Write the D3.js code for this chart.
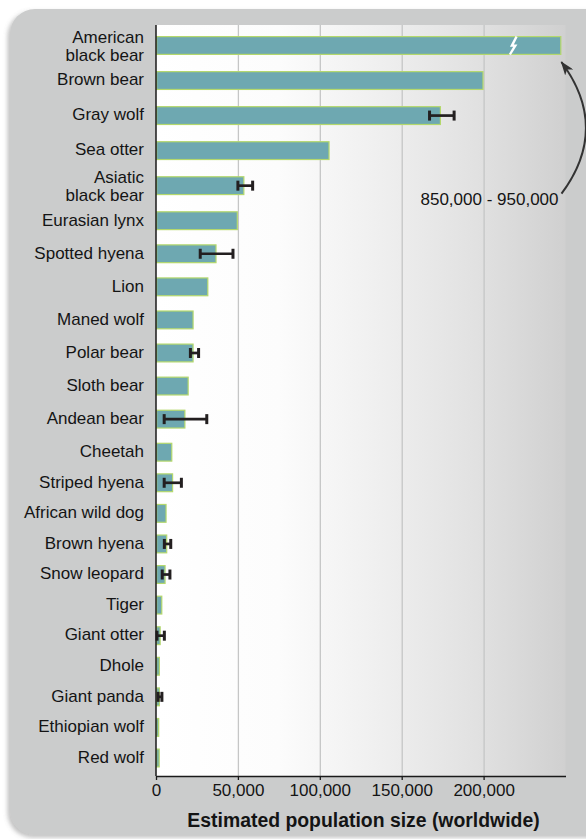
<!DOCTYPE html>
<html>
<head>
<meta charset="utf-8">
<script src="https://cdn.jsdelivr.net/npm/d3@7/dist/d3.min.js"></script>
<style>
  html, body { margin: 0; padding: 0; background: #fff; }
  svg { display: block; font-family: "Liberation Sans", Arial, Helvetica, sans-serif; }
  .label, .tick text { font-size: 17px; fill: #141414; }
  .grid line { stroke: #c5c6c6; stroke-width: 1.3; }
  .bar { fill: #6ea8b1; stroke: #b4d86c; stroke-width: 1.2; }
  .err { stroke: #231f20; fill: none; }
</style>
</head>
<body>
<div class="graphic"></div>
<script>
// species, top to bottom (\n = line break in the label)
var species = [
  "American\nblack bear", "Brown bear", "Gray wolf", "Sea otter", "Asiatic\nblack bear",
  "Eurasian lynx", "Spotted hyena", "Lion", "Maned wolf", "Polar bear", "Sloth bear",
  "Andean bear", "Cheetah", "Striped hyena", "African wild dog", "Brown hyena",
  "Snow leopard", "Tiger", "Giant otter", "Dhole", "Giant panda", "Ethiopian wolf", "Red wolf"
];
// estimated population (worldwide)
var population = [
  900000, 200000, 174000, 106000, 54000,
  50000, 37000, 32000, 23000, 23000, 20000,
  18000, 10000, 10500, 6500, 6900,
  5900, 3900, 2900, 2400, 2400, 2000, 2300
];
// low / high estimates, null where no range is shown
var errLow = [
  null, null, 167000, null, 50000,
  null, 27000, null, null, 21000, null,
  5000, null, 5000, null, 5100,
  3800, null, 600, null, 1300, null, null
];
var errHigh = [
  null, null, 182000, null, 59000,
  null, 47000, null, null, 26000, null,
  31000, null, 15500, null, 9000,
  8500, null, 5100, null, 3600, null, null
];
var xTicks = [0, 50000, 100000, 150000, 200000];
var axisMax = 250000;
// bars above the axis are cut here and marked with a break
var brokenAt = 247500, breakMark = 218000;
var brokenText = "850,000 - 950,000";
var xTitle = "Estimated population size (worldwide)";

(function () {
  "use strict";
  var W = 586, H = 839;
  var plot = {left: 156, right: 565.5, top: 25, bottom: 776};
  var barH = 19;

  var svg = d3.select('.graphic').append('svg').attr('width', W).attr('height', H);
  var defs = svg.append('defs');

  var shadow = defs.append('filter').attr('id', 'shadow')
      .attr('x', '-5%').attr('y', '-5%').attr('width', '110%').attr('height', '110%');
  shadow.append('feDropShadow').attr('dx', -2.5).attr('dy', 2.5)
      .attr('stdDeviation', 2).attr('flood-color', '#777').attr('flood-opacity', 0.45);

  var grad = defs.append('linearGradient').attr('id', 'plotbg')
      .attr('x1', '0%').attr('x2', '100%').attr('y1', '0%').attr('y2', '0%');
  [[0, '#ffffff'], [0.3, '#fcfcfc'], [0.55, '#efefef'], [0.8, '#e0e0e0'], [1, '#d0d0d0']]
    .forEach(function (s) {
      grad.append('stop').attr('offset', s[0]).attr('stop-color', s[1]);
    });

  defs.append('marker').attr('id', 'head')
      .attr('viewBox', '0 -5 14 10').attr('refX', 13).attr('refY', 0)
      .attr('markerUnits', 'userSpaceOnUse')
      .attr('markerWidth', 14).attr('markerHeight', 10).attr('orient', 'auto')
    .append('path').attr('d', 'M0,-5L14,0L0,5L3.5,0Z').attr('fill', '#333');

  // rounded grey panel
  svg.append('rect')
      .attr('x', 10).attr('y', 9).attr('width', 620).attr('height', 826)
      .attr('rx', 25).attr('fill', '#cbcccc').attr('filter', 'url(#shadow)');

  var x = d3.scaleLinear().domain([0, axisMax]).range([plot.left, plot.right]);
  // rows get a little tighter towards the bottom in the original
  var y = d3.scaleLinear().domain([0, 5, 12, 22]).range([45.5, 220.7, 452.2, 758]);

  svg.append('rect')
      .attr('x', plot.left).attr('y', plot.top)
      .attr('width', plot.right - plot.left).attr('height', plot.bottom - plot.top)
      .attr('fill', 'url(#plotbg)');

  // vertical grid lines
  svg.append('g').attr('class', 'grid')
      .attr('transform', 'translate(0,' + plot.bottom + ')')
      .call(d3.axisBottom(x).tickValues(xTicks.slice(1)).tickSize(-(plot.bottom - plot.top)).tickFormat(''))
      .call(function (g) { g.select('.domain').remove(); });

  var rows = species.map(function (name, i) {
    return {name: name, value: population[i], lo: errLow[i], hi: errHigh[i], i: i};
  });

  svg.selectAll('.bar')
      .data(rows)
    .enter().append('rect')
      .attr('class', 'bar')
      .attr('x', x(0) + 0.6)
      .attr('y', function (d) { return y(d.i) - barH / 2 + 0.6; })
      .attr('width', function (d) { return x(Math.min(d.value, brokenAt)) - x(0) - 1.2; })
      .attr('height', barH - 1.2);

  // break mark on the cut bar
  rows.filter(function (d) { return d.value > axisMax; }).forEach(function (d) {
    var bx = x(breakMark), top = y(d.i) - barH / 2;
    svg.append('path')
        .attr('d', 'M' + (bx + 3.5) + ',' + (top + 0.5) + 'L' + (bx - 1.2) + ',' + (top + 9.6) +
          'L' + (bx + 2.2) + ',' + (top + 9.6) + 'L' + (bx - 3.2) + ',' + (top + 18.5))
        .attr('fill', 'none').attr('stroke', '#fff').attr('stroke-width', 2.4)
        .attr('stroke-linejoin', 'miter');
  });

  // error bars
  var errs = svg.selectAll('.err')
      .data(rows.filter(function (d) { return d.lo != null; }))
    .enter().append('g').attr('class', 'err');
  errs.append('line')
      .attr('x1', function (d) { return x(d.lo); })
      .attr('x2', function (d) { return x(d.hi); })
      .attr('y1', function (d) { return y(d.i); })
      .attr('y2', function (d) { return y(d.i); })
      .attr('stroke-width', 2.7);
  ['lo', 'hi'].forEach(function (k) {
    errs.append('line')
        .attr('x1', function (d) { return x(d[k]); })
        .attr('x2', function (d) { return x(d[k]); })
        .attr('y1', function (d) { return y(d.i) - 5; })
        .attr('y2', function (d) { return y(d.i) + 5; })
        .attr('stroke-width', 3);
  });

  // category labels
  var labels = svg.selectAll('.label')
      .data(rows)
    .enter().append('text')
      .attr('class', 'label')
      .attr('text-anchor', 'end');
  labels.each(function (d) {
    var lines = d.name.split('\n');
    var t = d3.select(this);
    lines.forEach(function (line, j) {
      var base = lines.length > 1 ? y(d.i) - 2.6 + j * 18.2 : y(d.i) + 4.8;
      t.append('tspan').attr('x', plot.left - 12).attr('y', base).text(line);
    });
  });

  // axes
  svg.append('g')
      .attr('transform', 'translate(0,' + plot.bottom + ')')
      .call(d3.axisBottom(x).tickValues(xTicks).tickSize(4).tickSizeOuter(0).tickPadding(4)
        .tickFormat(d3.format(',')))
      .call(function (g) {
        g.select('.domain').attr('stroke', '#1a1a1a').attr('stroke-width', 1.5);
        g.selectAll('.tick line').attr('stroke', '#1a1a1a').attr('stroke-width', 1.3);
      });
  svg.append('line')
      .attr('x1', plot.left).attr('x2', plot.left)
      .attr('y1', plot.top).attr('y2', plot.bottom)
      .attr('stroke', '#1a1a1a').attr('stroke-width', 1.5);

  svg.append('text')
      .attr('x', 363.5).attr('y', 827)
      .attr('text-anchor', 'middle')
      .style('font-size', '19.4px').style('font-weight', 'bold').style('fill', '#141414')
      .text(xTitle);

  // annotation for the cut bar
  var top = rows[0];
  var lx = x(axisMax) - 7, ly = y(4) + 19;
  svg.append('text')
      .attr('class', 'label')
      .attr('x', lx).attr('y', ly)
      .attr('text-anchor', 'end')
      .text(brokenText);
  var ax = x(brokenAt), ay = y(top.i) + barH / 2 + 7;
  svg.append('path')
      .attr('d', 'M' + (lx + 3) + ',' + (ly - 11) + 'Q' + (ax + 49) + ',' + ((ly - 11 + ay) / 2) + ' ' + ax + ',' + ay)
      .attr('fill', 'none').attr('stroke', '#333').attr('stroke-width', 2)
      .attr('marker-end', 'url(#head)');
}());
</script>
</body>
</html>
